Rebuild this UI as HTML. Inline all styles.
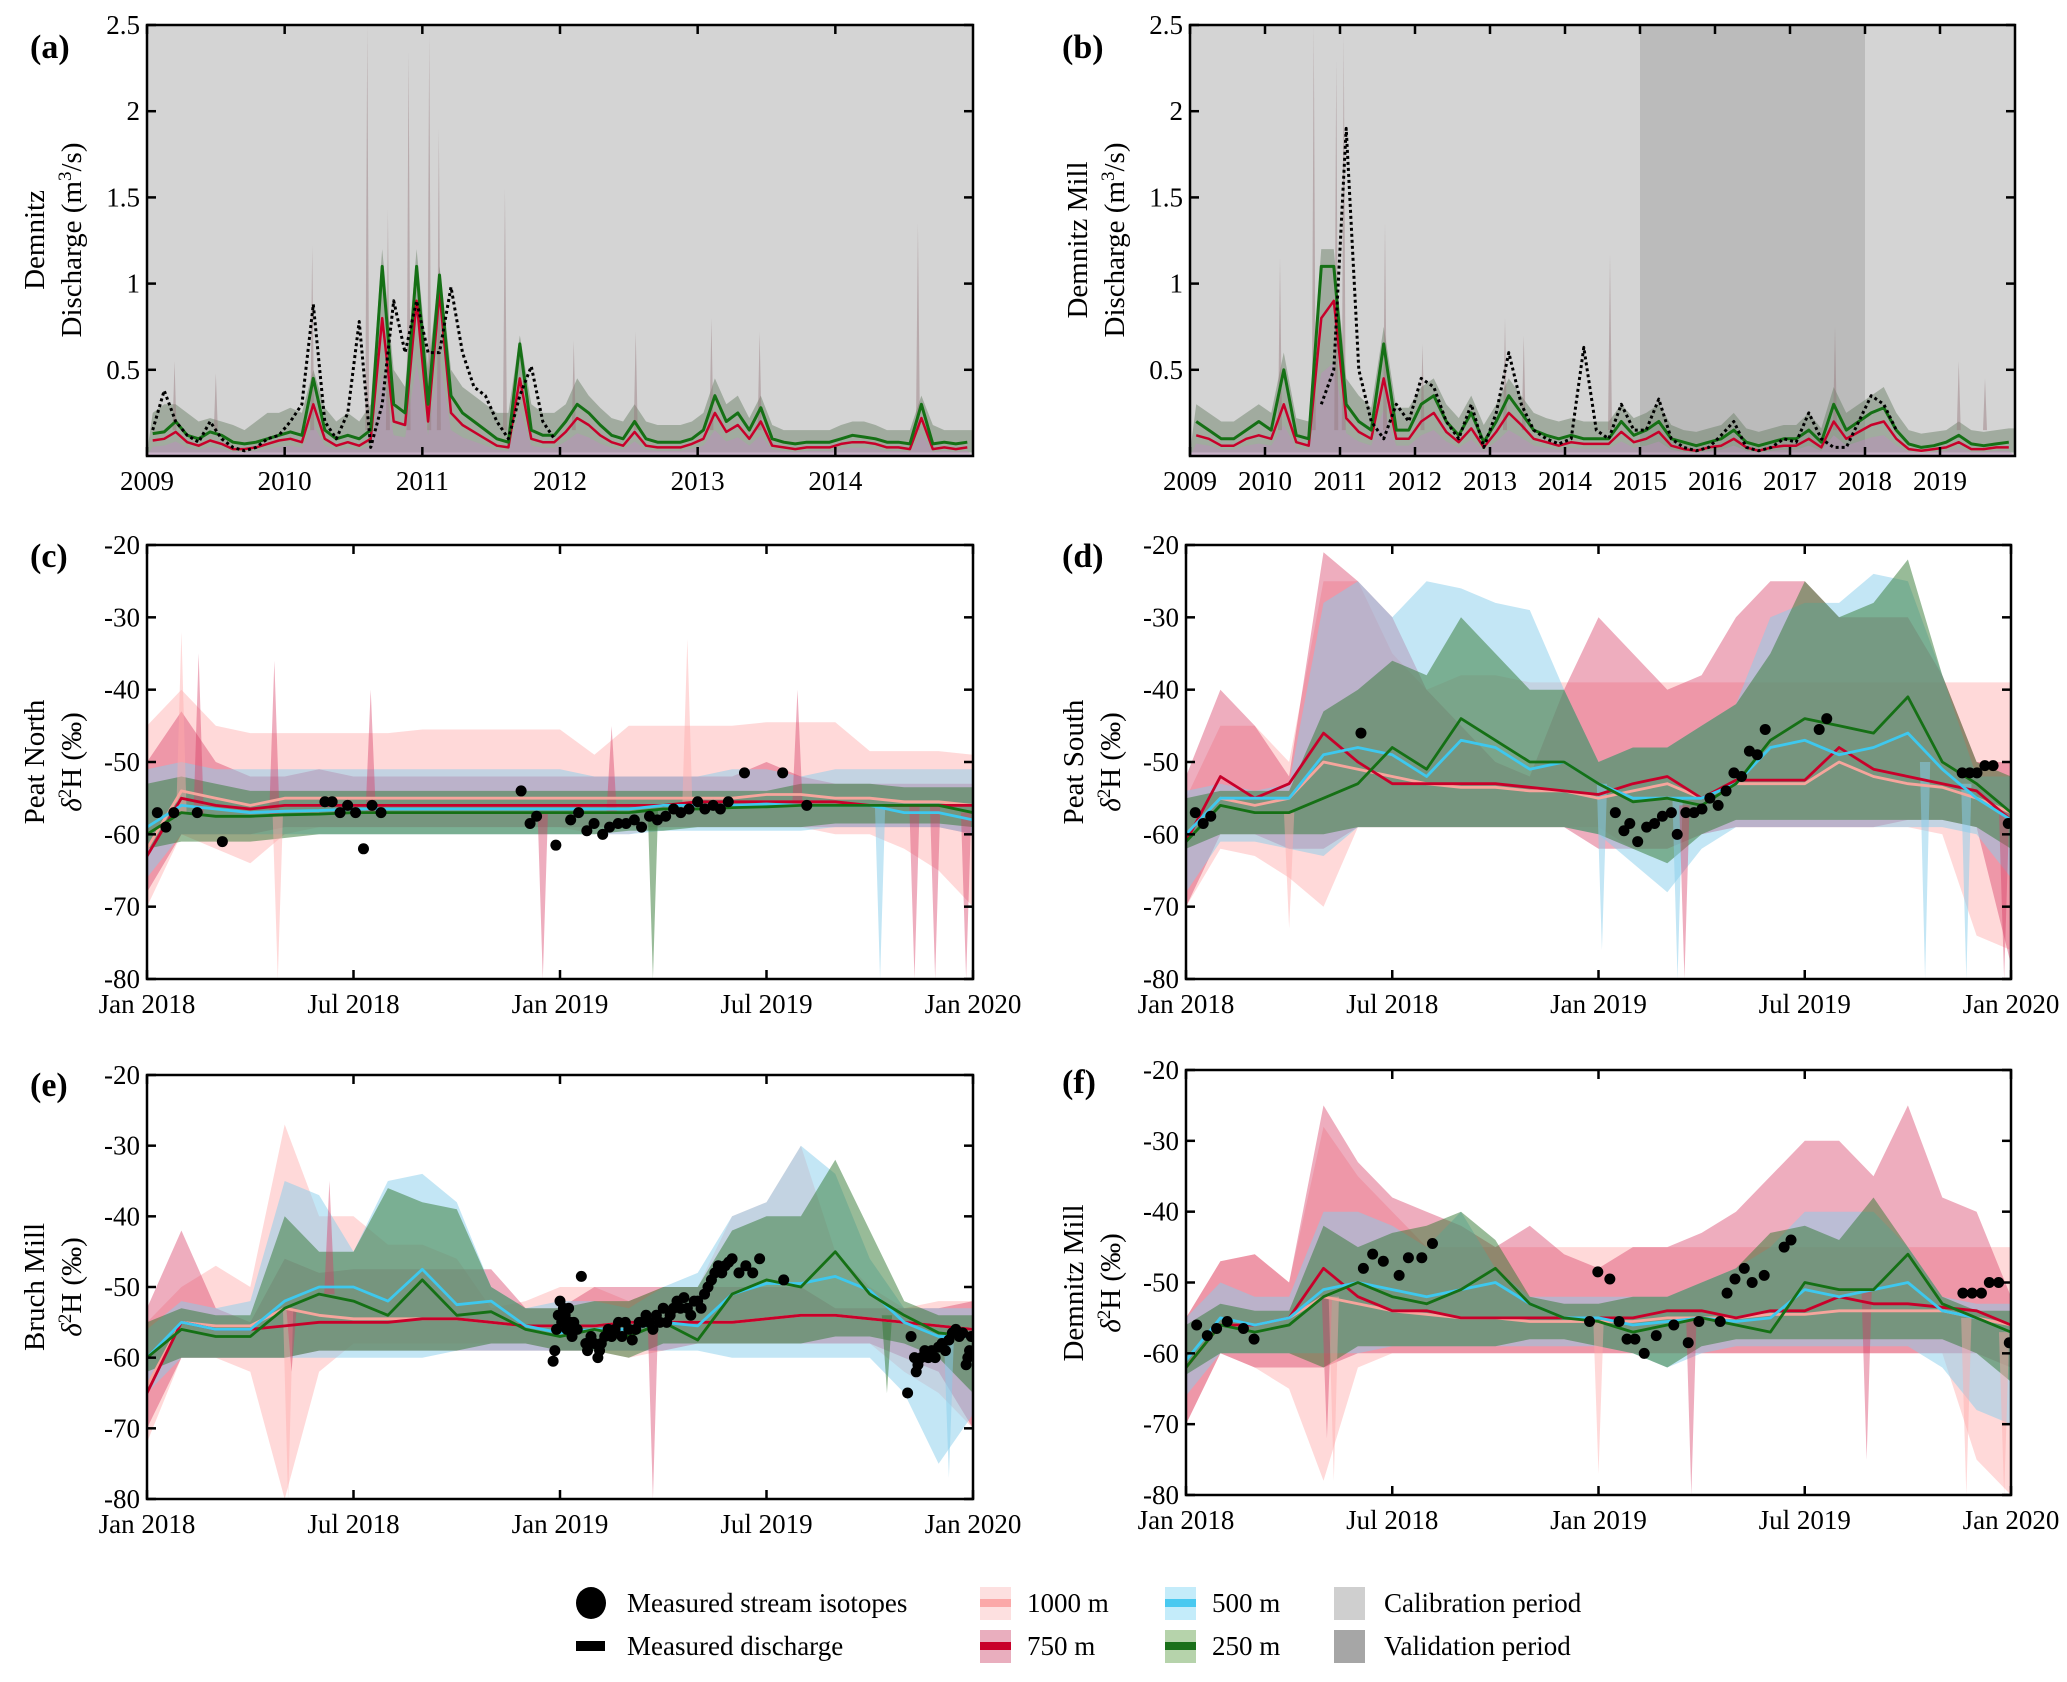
<!DOCTYPE html>
<html><head><meta charset="utf-8"><style>
html,body{margin:0;padding:0;background:#fff;}
svg{display:block;}
svg text{font-family:"Liberation Serif","DejaVu Serif",serif;}
</style></head><body>
<svg id="fig" width="2067" height="1682" viewBox="0 0 2067 1682" xmlns="http://www.w3.org/2000/svg" font-family="Liberation Serif, DejaVu Serif, serif"></svg>
<script>
// ---------- Discharge data (a) monthly 2009-2014 ----------
const aSimGreen=[0.13,0.14,0.2,0.12,0.1,0.14,0.12,0.08,0.07,0.08,0.1,0.12,
0.14,0.12,0.45,0.15,0.1,0.12,0.1,0.15,1.1,0.3,0.25,1.1,
0.3,1.05,0.35,0.25,0.2,0.15,0.1,0.08,0.65,0.15,0.12,0.12,
0.2,0.3,0.25,0.18,0.12,0.1,0.2,0.1,0.08,0.08,0.08,0.1,
0.15,0.35,0.2,0.25,0.15,0.28,0.1,0.08,0.07,0.08,0.08,0.08,
0.1,0.12,0.11,0.1,0.08,0.08,0.07,0.3,0.07,0.08,0.07,0.08];
const aSimRed=[0.09,0.1,0.14,0.08,0.06,0.09,0.07,0.04,0.04,0.05,0.07,0.09,
0.1,0.08,0.3,0.1,0.06,0.08,0.06,0.1,0.8,0.2,0.18,0.9,
0.2,0.95,0.25,0.18,0.14,0.1,0.06,0.05,0.45,0.1,0.08,0.08,
0.14,0.22,0.18,0.12,0.08,0.06,0.14,0.06,0.05,0.05,0.05,0.07,
0.1,0.25,0.14,0.18,0.1,0.2,0.06,0.05,0.04,0.05,0.05,0.05,
0.07,0.08,0.08,0.07,0.05,0.05,0.04,0.22,0.04,0.05,0.04,0.05];
const aBandUpper=[0.25,0.3,0.3,0.25,0.2,0.22,0.2,0.18,0.15,0.2,0.25,0.25,
0.28,0.25,0.5,0.28,0.2,0.25,0.2,0.3,1.2,0.5,0.4,1.2,
0.5,1.1,0.5,0.4,0.35,0.3,0.25,0.25,0.7,0.3,0.25,0.25,
0.3,0.45,0.35,0.28,0.22,0.2,0.3,0.2,0.18,0.18,0.18,0.2,
0.25,0.45,0.3,0.35,0.22,0.35,0.18,0.15,0.15,0.15,0.15,0.15,
0.18,0.2,0.2,0.18,0.15,0.15,0.15,0.35,0.18,0.15,0.15,0.15];
const aMeasured=[0.15,0.38,0.2,0.12,0.08,0.2,0.1,0.05,0.03,0.05,0.1,0.12,
0.2,0.3,0.88,0.2,0.1,0.25,0.78,0.05,0.3,0.9,0.6,0.9,
0.6,0.6,0.98,0.6,0.4,0.35,0.2,0.1,0.35,0.52,0.2,0.1,
null,null,null,null,null,null,null,null,null,null,null,null,
null,null,null,null,null,null,null,null,null,null,null,null,
null,null,null,null,null,null,null,null,null,null,null,null];
const aSpikeYears=[2009.2,2009.5,2010.2,2010.6,2010.75,2010.9,2011.05,2011.12,2011.6,2012.1,2012.55,2013.1,2013.45,2014.6];
const aSpikeValues=[0.55,0.48,1.22,2.5,1.43,2.35,2.45,1.9,1.55,0.67,0.72,0.8,0.72,1.35];
const aTickYears=[2009,2010,2011,2012,2013,2014];
// ---------- Discharge data (b) bimonthly 2009-2019 ----------
const bSimGreen=[0.2,0.15,0.1,0.1,0.15,0.2, 0.15,0.5,0.12,0.1,1.1,1.1, 0.3,0.2,0.15,0.65,0.15,0.15,
0.3,0.35,0.2,0.12,0.25,0.08, 0.2,0.35,0.25,0.15,0.12,0.1, 0.12,0.1,0.1,0.1,0.2,0.12,
0.15,0.2,0.1,0.08,0.06,0.08, 0.1,0.15,0.08,0.06,0.08,0.1, 0.1,0.15,0.08,0.3,0.15,0.2,
0.25,0.28,0.15,0.07,0.05,0.06, 0.08,0.12,0.07,0.06,0.07,0.08];
const bSimRed=[0.12,0.1,0.06,0.06,0.1,0.12, 0.1,0.3,0.08,0.06,0.8,0.9, 0.22,0.14,0.1,0.45,0.1,0.1,
0.2,0.25,0.14,0.08,0.16,0.05, 0.14,0.25,0.18,0.1,0.08,0.06, 0.08,0.07,0.07,0.07,0.14,0.08,
0.1,0.14,0.06,0.04,0.03,0.05, 0.06,0.1,0.05,0.03,0.05,0.06, 0.06,0.1,0.05,0.2,0.1,0.14,
0.18,0.2,0.1,0.04,0.03,0.04, 0.05,0.08,0.04,0.04,0.05,0.05];
const bBandUpper=[0.3,0.25,0.2,0.2,0.25,0.3, 0.25,0.6,0.22,0.2,1.2,1.2, 0.45,0.35,0.28,0.75,0.28,0.28,
0.4,0.45,0.3,0.22,0.35,0.18, 0.3,0.45,0.35,0.25,0.22,0.2, 0.22,0.2,0.2,0.2,0.3,0.22,
0.25,0.3,0.18,0.15,0.14,0.16, 0.18,0.25,0.16,0.14,0.16,0.18, 0.18,0.25,0.16,0.4,0.25,0.3,
0.35,0.4,0.25,0.15,0.13,0.14, 0.15,0.2,0.15,0.14,0.15,0.16];
const bMeasured=[null,null,null,null,null,null, null,null,null,null,0.3,0.5, 1.9,0.5,0.2,0.1,0.3,0.2,
0.45,0.4,0.2,0.1,0.3,0.05, 0.25,0.6,0.3,0.15,0.1,0.07, 0.1,0.63,0.15,0.1,0.3,0.15,
0.15,0.33,0.1,0.05,0.03,0.05, 0.12,0.2,0.05,0.03,0.05,0.1, 0.08,0.25,0.1,0.05,0.05,0.2,
0.35,0.3,0.15,null,null,null, null,null,null,null,null,null];
const bSpikeYears=[2010.2,2010.65,2010.95,2011.05,2011.6,2012.1,2013.2,2013.45,2014.6,2017.6,2019.25,2019.6];
const bSpikeValues=[1.15,2.5,2.3,2.45,1.35,0.65,0.8,0.7,1.17,0.75,0.55,0.45];
const bTickYears=[2009,2010,2011,2012,2013,2014,2015,2016,2017,2018,2019];
const bValidation=[2015,2018];
const qTicks=[0.5,1,1.5,2,2.5];
// ---------- Isotope panels (monthly index 0=Jan 2018 .. 24=Jan 2020) ----------
const isoTicks=[-20,-30,-40,-50,-60,-70,-80];
const monthTickLabels=["Jan 2018","Jul 2018","Jan 2019","Jul 2019","Jan 2020"];
const monthTickPos=[0,6,12,18,24];
// (c) Peat North
const cGreen=[-60,-57,-57.5,-57.5,-57.3,-57.2,-57,-57,-57,-57,-57,-57,-57,-57,-57,-56.5,-56.5,-56.3,-56.2,-56,-56,-56,-56,-56,-57];
const cCyan=[-59,-56,-56.5,-57,-56.8,-56.7,-56.5,-56.5,-56.5,-56.5,-56.5,-56.5,-56.5,-56.5,-56.5,-56,-56,-56,-55.8,-56,-56,-56,-57,-57,-58];
const cRed=[-63,-55,-56,-56.5,-56,-56,-56,-56,-56,-56,-56,-56,-56,-56,-56,-56,-55.5,-55.5,-55.5,-55.5,-55.5,-56,-56,-56,-56];
const cPink=[-62,-54,-55,-56,-55,-55,-55,-55,-55,-55,-55,-55,-55,-55,-55,-55,-55,-55,-54.5,-54.5,-55,-55,-55.5,-55.5,-56];
const cPinkU=[-45,-40,-45,-46,-46,-46,-46,-46,-45.5,-45.5,-45.5,-45.5,-45.5,-49,-45,-45,-45,-45,-44.5,-44.5,-44.5,-48.5,-48.5,-48.5,-49];
const cPinkL=[-70,-60,-62,-64,-60,-59,-59,-59,-59,-59,-59,-59,-59,-60,-60,-59,-59,-59,-59,-59,-60,-60,-62,-65,-70];
const cRedU=[-50,-43,-50,-52,-52,-51,-52,-52,-52,-52,-52,-52,-52,-52,-52,-52,-52,-52,-50,-52,-53,-53,-53,-53,-53];
const cRedL=[-68,-60,-60,-60,-59,-59,-59,-59,-59,-59,-59,-59,-59,-59,-59,-59,-59,-59,-59,-59,-59,-59,-59,-59,-60];
const cCyanU=[-51,-50,-51,-51,-51,-51,-51,-51,-51,-51,-51,-51,-51,-52,-52,-52,-52,-51,-51,-52,-51,-51,-51,-51,-51];
const cCyanL=[-66,-60,-60,-60,-60,-60,-60,-60,-60,-60,-60,-60,-60,-60,-60,-59.5,-59.5,-59.5,-59.5,-59.5,-59,-59,-59,-59,-60];
const cGreenU=[-53,-52,-53,-54,-54,-54,-54,-54,-54,-54,-54,-54,-54,-54,-54,-54,-54,-54,-54,-53,-53,-53,-53.5,-53.5,-53.5];
const cGreenL=[-62,-61,-61,-61,-60.5,-60,-60,-60,-60,-60,-60,-60,-60,-60,-59.5,-59.5,-59,-59,-59,-59,-58.5,-58.5,-58.5,-58.5,-59];
const cSpikeMonths=[1.0,1.5,3.7,3.8,6.5,11.5,13.5,14.7,15.7,18.9,21.3,22.3,22.9,23.8];
const cSpikeValues=[-32,-35,-36,-80,-40,-80,-45,-80,-33,-40,-80,-80,-80,-80];
const cSpikeSeries=["pink","red","red","pink","red","red","red","green","pink","red","cyan","red","red","red"];
const cDotMonths=[0.3,0.55,0.78,1.46,2.19,5.17,5.38,5.61,5.83,6.06,6.29,6.54,6.8,10.87,11.13,11.32,11.88,12.31,12.54,12.78,12.99,13.24,13.44,13.69,13.92,14.16,14.37,14.6,14.83,15.07,15.3,15.51,15.75,16,16.21,16.45,16.66,16.89,17.36,18.47,19.17];
const cDotValues=[-57,-59,-57,-57,-61,-55.5,-55.5,-57,-56,-57,-62,-56,-57,-54,-58.5,-57.5,-61.5,-58,-57,-59.5,-58.5,-60,-59,-58.5,-58.5,-58,-59,-57.5,-58,-57.5,-56.5,-57,-56.5,-55.5,-56.5,-56,-56.5,-55.5,-51.5,-51.5,-56];
// (d) Peat South
const dGreen=[-61,-56,-57,-57,-55,-53,-48,-51,-44,-47,-50,-50,-53,-55.5,-55,-56,-53,-47,-44,-45,-46,-41,-50,-53,-57];
const dCyan=[-60,-55,-55,-55,-49,-48,-49,-52,-47,-48,-51,-50,-53,-55,-55,-55,-53,-48,-47,-49,-48,-46,-51,-55,-58];
const dRed=[-61,-52,-55,-53,-46,-50,-53,-53,-53,-53,-53.5,-54,-54.5,-53,-52,-55,-52.5,-52.5,-52.5,-48,-51,-52,-53,-54,-58];
const dPink=[-60,-55,-56,-55,-50,-51,-52,-53,-53.5,-53.5,-54,-54,-55,-54,-53,-55,-53,-53,-53,-50,-52,-53,-53.5,-55,-57];
const dPinkU=[-55,-45,-45,-50,-25,-25,-35,-40,-38,-38,-39,-39,-39,-39,-39,-39,-39,-39,-39,-39,-39,-39,-39,-39,-39];
const dPinkL=[-70,-62,-63,-66,-70,-59,-59,-59,-59,-59,-59,-59,-59,-62,-62,-60,-59,-59,-59,-59,-59,-59,-60,-74,-76];
const dRedU=[-52,-40,-45,-52,-21,-25,-30,-40,-45,-50,-52,-40,-30,-35,-40,-38,-30,-25,-25,-30,-30,-30,-38,-50,-50];
const dRedL=[-70,-60,-60,-62,-62,-59,-59,-59,-59,-59,-59,-59,-62,-62,-62,-60,-59,-59,-59,-59,-59,-58,-58,-59,-78];
const dCyanU=[-54,-53,-54,-53,-28,-25,-30,-25,-26,-28,-29,-40,-50,-48,-48,-45,-42,-30,-28,-28,-24,-25,-38,-52,-52];
const dCyanL=[-68,-61,-61,-62,-63,-59,-59,-59,-59,-59,-59,-59,-60,-64,-68,-62,-59,-59,-59,-59,-59,-59,-59,-60,-66];
const dGreenU=[-55,-54,-54,-54,-43,-40,-36,-38,-30,-35,-40,-40,-50,-48,-48,-45,-42,-35,-25,-30,-28,-22,-38,-50,-52];
const dGreenL=[-62,-60,-60,-60,-60,-59,-59,-59,-59,-59,-59,-59,-60,-62,-64,-60,-58,-58,-58,-58,-58,-58,-58,-59,-62];
const dSpikeMonths=[3.0,12.1,14.3,14.5,21.5,22.7,23.8];
const dSpikeValues=[-73,-76,-80,-80,-80,-80,-80];
const dSpikeSeries=["pink","cyan","cyan","red","cyan","cyan","red"];
const dDotMonths=[0.27,0.5,0.72,5.09,12.49,12.74,12.91,13.14,13.4,13.63,13.86,14.12,14.29,14.54,14.78,15.01,15.24,15.48,15.71,15.94,16.16,16.39,16.62,16.85,18.42,18.64,22.58,22.8,23.01,23.24,23.48,23.92];
const dDotValues=[-57,-58.5,-57.5,-46,-57,-59.5,-58.5,-61,-59,-58.5,-57.5,-57,-60,-57,-57,-56.5,-55,-56,-54,-51.5,-52,-48.5,-49,-45.5,-45.5,-44,-51.5,-51.5,-51.5,-50.5,-50.5,-58.5];
// (e) Bruch Mill
const eGreen=[-60,-56,-57,-57,-53,-51,-52,-54,-49,-54,-53.5,-56,-57,-56,-57,-55,-57.5,-51,-49,-50,-45,-51,-54,-56.5,-57];
const eCyan=[-60,-55,-56,-56,-52,-50,-50,-52,-47.5,-52.5,-52,-55.5,-56.5,-56,-56,-55,-55.5,-51,-49.5,-49.5,-48.5,-50.5,-55,-57,-57];
const eRed=[-65,-55,-56,-56,-55.5,-55,-55,-55,-54.5,-54.5,-55,-55.5,-55.5,-55.5,-55,-55,-55,-55,-54.5,-54,-54,-54.5,-55,-55.5,-56];
const ePink=[-64,-55,-55.5,-55.5,-53,-54,-54.5,-54.5,-54.5,-54.5,-55,-55.5,-55.5,-55.5,-55,-55,-55,-55,-54.5,-54,-54,-54.5,-55,-55.5,-56];
const ePinkU=[-55,-50,-47,-50,-27,-40,-40,-44,-44,-46,-53,-52,-50,-50,-52,-50,-50,-40,-38,-30,-45,-50,-53,-52,-52];
const ePinkL=[-72,-60,-60,-62,-80,-62,-58,-58,-58,-58,-58,-58,-59,-59,-60,-59,-58,-58,-58,-58,-58,-58,-62,-65,-70];
const eRedU=[-53,-42,-53,-55,-46,-48,-47.5,-47.5,-47.5,-47.5,-47.5,-53,-53,-50,-50,-50,-50,-50,-50,-50,-53,-53,-53,-53,-52];
const eRedL=[-70,-60,-60,-60,-60,-59,-59,-59,-59,-59,-59,-59,-59,-59,-59,-59,-58,-58,-58,-58,-58,-58,-60,-62,-70];
const eCyanU=[-56,-52,-53,-52,-35,-37,-45,-35,-34,-38,-50,-53,-52,-52,-53,-50,-48,-40,-38,-30,-34,-46,-53,-53,-53];
const eCyanL=[-65,-60,-60,-60,-60,-60,-60,-60,-60,-59,-59,-59,-59,-59,-59,-59,-59,-60,-60,-60,-60,-60,-65,-75,-68];
const eGreenU=[-55,-53,-54,-54,-40,-45,-45,-36,-38,-39,-50,-53,-53,-52,-52,-50,-50,-42,-40,-40,-32,-42,-52,-54,-54];
const eGreenL=[-62,-60,-60,-60,-60,-59,-59,-59,-59,-59,-58,-58,-59,-59,-60,-58,-58,-58,-58,-58,-57,-57,-58,-60,-65];
const eSpikeMonths=[4.1,4.2,5.3,14.7,21.5,23.3];
const eSpikeValues=[-80,-62,-35,-80,-65,-77];
const eSpikeSeries=["pink","red","red","red","green","cyan"];
const eDotMonths=[11.8,11.85,11.9,11.95,12.0,12.05,12.1,12.15,12.2,12.25,12.3,12.35,12.4,12.5,12.62,12.75,12.8,12.9,13.0,13.1,13.15,13.2,13.3,13.4,13.5,13.6,13.7,13.8,13.9,14.0,14.1,14.2,14.3,14.4,14.5,14.6,14.7,14.8,14.9,15.0,15.1,15.2,15.3,15.4,15.5,15.6,15.7,15.8,15.9,16.0,16.1,16.2,16.3,16.4,16.5,16.6,16.7,16.8,16.9,17.0,17.2,17.4,17.6,17.8,18.5,
22.1,22.2,22.3,22.35,22.4,22.5,22.6,22.7,22.8,22.9,23.0,23.1,23.2,23.3,23.4,23.5,23.6,23.7,23.8,23.85,23.9,23.95];
const eDotValues=[-60.5,-59,-56,-54,-52,-55,-53,-54,-56,-53,-55,-57,-55,-56,-48.5,-58,-59,-57,-58,-60,-59,-58,-57,-56,-57,-56,-55,-57,-55,-56,-57.5,-56,-55,-55,-54,-55,-56,-54,-55,-53,-55,-54,-53,-52,-53,-51.5,-53,-54,-52,-52,-53,-51,-50,-49,-48,-47,-48,-47,-46.5,-46,-48,-47,-48,-46,-49,
-65,-57,-60,-62,-61,-60,-59,-60,-59,-60,-58.5,-58,-59,-57.5,-56.5,-56,-57,-56.5,-61,-60,-59,-57];
// (f) Demnitz Mill
const fGreen=[-62,-56,-57,-56,-52,-50,-52,-53,-51,-48,-53,-55,-55.5,-57,-56,-55,-56,-57,-50,-51,-51,-46,-53,-55,-57];
const fCyan=[-61,-55,-56,-55,-51,-50,-51,-52,-51,-50,-53,-55,-55,-56,-55.5,-55,-55.5,-55,-51,-52,-51,-50,-54,-55,-57];
const fRed=[-62,-56,-56,-55,-48,-52,-54,-54,-55,-55,-55,-55,-55,-55,-54,-54,-55,-54,-54,-52,-53,-53,-53.5,-54,-56];
const fPink=[-62,-56,-56,-55,-52,-53,-54,-54.5,-55,-55,-55.5,-55.5,-55.5,-55.5,-55,-55,-55,-54.5,-54.5,-54,-54,-54,-54,-55,-56];
const fPinkU=[-55,-47,-46,-50,-28,-35,-40,-45,-45,-45,-45,-45,-45,-45,-45,-45,-45,-45,-45,-45,-45,-45,-45,-45,-45];
const fPinkL=[-70,-60,-62,-65,-78,-62,-60,-60,-60,-60,-60,-60,-60,-60,-60,-60,-60,-60,-60,-60,-60,-60,-60,-75,-80];
const fRedU=[-55,-47,-46,-50,-25,-33,-38,-40,-42,-45,-42,-46,-48,-45,-45,-43,-40,-35,-30,-30,-35,-25,-38,-40,-52];
const fRedL=[-70,-60,-62,-62,-62,-60,-60,-60,-60,-60,-60,-60,-60,-60,-60,-60,-60,-60,-60,-60,-60,-60,-60,-60,-62];
const fCyanU=[-55,-50,-52,-52,-40,-40,-42,-45,-40,-48,-52,-52,-52,-52,-52,-50,-48,-45,-40,-40,-40,-45,-52,-53,-53];
const fCyanL=[-66,-60,-60,-60,-60,-60,-59,-59,-59,-59,-59,-59,-59,-60,-62,-60,-59,-59,-59,-59,-59,-59,-62,-68,-70];
const fGreenU=[-56,-53,-54,-54,-42,-45,-43,-42,-40,-44,-52,-53,-53,-52,-52,-50,-48,-43,-42,-44,-38,-45,-52,-54,-54];
const fGreenL=[-63,-60,-60,-60,-62,-59,-59,-59,-59,-59,-58,-58,-59,-60,-62,-59,-58,-58,-58,-58,-58,-58,-58,-60,-64];
const fSpikeMonths=[4.1,4.3,12.0,14.7,19.8,22.7,23.8];
const fSpikeValues=[-72,-78,-77,-80,-75,-80,-80];
const fSpikeSeries=["red","pink","pink","red","red","pink","pink"];
const fDotMonths=[0.31,0.62,0.89,1.2,1.67,1.98,5.16,5.43,5.74,6.2,6.47,6.86,7.17,11.74,11.98,12.33,12.6,12.83,13.06,13.33,13.68,14.19,14.61,14.92,15.54,15.74,15.97,16.24,16.47,16.82,17.4,17.6,22.6,22.87,23.14,23.37,23.64,23.95];
const fDotValues=[-56,-57.5,-56.5,-55.5,-56.5,-58,-48,-46,-47,-49,-46.5,-46.5,-44.5,-55.5,-48.5,-49.5,-55.5,-58,-58,-60,-57.5,-56,-58.5,-55.5,-55.5,-51.5,-49.5,-48,-50,-49,-45,-44,-51.5,-51.5,-51.5,-50,-50,-58.5];

// ---------- rendering ----------
const NS="http://www.w3.org/2000/svg";
const svg=document.getElementById('fig');
const FONT="'Liberation Serif','DejaVu Serif',serif";
function mk(tag,attrs,parent){const e=document.createElementNS(NS,tag);for(const k in attrs)e.setAttribute(k,attrs[k]);if(tag==='text')e.setAttribute('font-family',FONT);(parent||svg).appendChild(e);return e;}
const COL={pink:"rgba(255,170,170,0.45)",red:"rgba(215,60,100,0.42)",cyan:"rgba(135,205,235,0.5)",green:"rgba(50,120,50,0.5)"};
const LCOL={pink:"#f6a59c",red:"#c8002a",cyan:"#3ec8ee",green:"#157015"};

function frame(g,P,yTicks,yFmt,yv,xTickPos,xTickLbl,xv){
  mk('rect',{x:P.x0,y:P.y0,width:P.x1-P.x0,height:P.y1-P.y0,fill:'none',stroke:'#000','stroke-width':2.5},g);
  yTicks.forEach((t,i)=>{const y=yv(t);
    mk('line',{x1:P.x0,y1:y,x2:P.x0+9,y2:y,stroke:'#000','stroke-width':2.5},g);
    mk('line',{x1:P.x1,y1:y,x2:P.x1-9,y2:y,stroke:'#000','stroke-width':2.5},g);
    const tx=mk('text',{x:P.x0-7,y:y+9,'text-anchor':'end','font-size':27},g);tx.textContent=yFmt(t);
    
    
  });
  xTickPos.forEach((t,i)=>{const x=xv(t);
    mk('line',{x1:x,y1:P.y1,x2:x,y2:P.y1-9,stroke:'#000','stroke-width':2.5},g);
    mk('line',{x1:x,y1:P.y0,x2:x,y2:P.y0+9,stroke:'#000','stroke-width':2.5},g);
    const tx=mk('text',{x:x,y:P.y1+34,'text-anchor':'middle','font-size':27},g);tx.textContent=xTickLbl[i];
    
    
  });
}
function panelLabel(txt,x,y){const t=mk('text',{x:x,y:y,'font-size':34,'font-weight':'bold'});t.textContent=txt;
  
  }
function yTitle(lines,cx,cy){
  const g=mk('g',{transform:`translate(${cx},${cy}) rotate(-90)`});
  
  
  lines.forEach((l,i)=>{const t=mk('text',{x:0,y:i*37,'text-anchor':'middle','font-size':29},g);t.innerHTML=l;});
}

function discharge(name,P,t0,t1,ticksY,ticks,green,red,upper,meas,perYear,spY,spV,valid){
  const g=mk('g',{});
  
  
  const xv=t=>P.x0+(t-t0)/(t1-t0)*(P.x1-P.x0);
  const yv=v=>P.y1-Math.max(0,Math.min(2.5,v))/2.5*(P.y1-P.y0);
  const bg=mk('rect',{x:P.x0,y:P.y0,width:P.x1-P.x0,height:P.y1-P.y0,fill:'#d4d4d4'},g);
  
  
  if(valid){const vr=mk('rect',{x:xv(valid[0]),y:P.y0,width:xv(valid[1])-xv(valid[0]),height:P.y1-P.y0,fill:'#bbbbbb'},g);
    
    }
  const tt=i=>t0+(i+0.5)/perYear;
  let d=`M${xv(t0)},${yv(0.02)}`;
  upper.forEach((v,i)=>{d+=`L${xv(tt(i))},${yv(v)}`;});
  d+=`L${xv(t1)},${yv(upper[upper.length-1])}L${xv(t1)},${yv(0.02)}Z`;
  const band=mk('path',{d:d,fill:'rgba(110,130,105,0.5)'},g);
  
  
  let d2=`M${xv(t0)},${yv(0.0)}`;
  red.forEach((v,i)=>{d2+=`L${xv(tt(i))},${yv(v*0.6)}`;});
  d2+=`L${xv(t1)},${yv(0)}Z`;
  const lb=mk('path',{d:d2,fill:'rgba(190,140,190,0.45)'},g);
  
  
  spY.forEach((s,i)=>{const x=xv(s);const base=yv(0.15);
    const sp=mk('path',{d:`M${x-2},${base}L${x},${yv(spV[i])}L${x+2},${base}Z`,fill:'rgba(150,120,125,0.45)'},g);
    
    });
  const line=(arr,col,w,name,dash)=>{let pts=[];const segs=[];
    arr.forEach((v,i)=>{if(v===null){if(pts.length)segs.push(pts);pts=[];}else pts.push(`${xv(tt(i)).toFixed(1)},${yv(v).toFixed(1)}`);});
    if(pts.length)segs.push(pts);
    segs.forEach(s=>{const pl=mk('polyline',{points:s.join(' '),fill:'none',stroke:col,'stroke-width':w,'stroke-linejoin':'round'},g);
      if(dash)pl.setAttribute('stroke-dasharray',dash);
      
      });
  };
  line(red,LCOL.red,2.5,'line-750m');
  line(green,LCOL.green,3,'line-250m');
  line(meas,'#000',3,'measured-discharge','3,3');
  frame(g,P,ticksY,t=>String(t),yv,ticks,ticks.map(String),xv);
}
discharge('panel-a',{x0:147,x1:973,y0:25,y1:456},2009,2015,qTicks,aTickYears,aSimGreen,aSimRed,aBandUpper,aMeasured,12,aSpikeYears,aSpikeValues,null);
discharge('panel-b',{x0:1190,x1:2015,y0:25,y1:456},2009,2020,qTicks,bTickYears,bSimGreen,bSimRed,bBandUpper,bMeasured,6,bSpikeYears,bSpikeValues,bValidation);

function iso(name,P,S){
  const g=mk('g',{});
  
  
  const xv=m=>P.x0+m/24*(P.x1-P.x0);
  const yv=v=>P.y0+(-20-Math.max(-80,Math.min(-20,v)))/60*(P.y1-P.y0);
  const clip=mk('clipPath',{id:'clip-'+name},g);mk('rect',{x:P.x0,y:P.y0,width:P.x1-P.x0,height:P.y1-P.y0},clip);
  const inner=mk('g',{'clip-path':`url(#clip-${name})`},g);
  ['pink','red','cyan','green'].forEach(k=>{
    const U=S[k+'U'],L=S[k+'L'];
    let d='';U.forEach((v,i)=>{d+=(i?'L':'M')+xv(i).toFixed(1)+','+yv(v).toFixed(1);});
    for(let i=L.length-1;i>=0;i--)d+='L'+xv(i).toFixed(1)+','+yv(L[i]).toFixed(1);
    const b=mk('path',{d:d+'Z',fill:COL[k]},inner);
    
    
  });
  S.spM.forEach((m,i)=>{const k=S.spS[i];const idx=Math.min(24,Math.round(m));const base=yv(S.green[idx]);
    const sp=mk('path',{d:`M${xv(m-0.15)},${base}L${xv(m)},${yv(S.spV[i])}L${xv(m+0.15)},${base}Z`,fill:COL[k]},inner);
    
    });
  ['pink','red','cyan','green'].forEach(k=>{
    const arr=S[k];
    const pl=mk('polyline',{points:arr.map((v,i)=>xv(i).toFixed(1)+','+yv(v).toFixed(1)).join(' '),fill:'none',stroke:LCOL[k],'stroke-width':2.8,'stroke-linejoin':'round'},inner);
    
    
  });
  S.dotM.forEach((m,i)=>{const c=mk('circle',{cx:xv(m),cy:yv(S.dotV[i]),r:5.5,fill:'#000'},inner);
    
    });
  frame(g,P,isoTicks,t=>String(t),yv,monthTickPos,monthTickLabels,xv);
}
iso('panel-c',{x0:147,x1:973,y0:545,y1:979},{pink:cPink,red:cRed,cyan:cCyan,green:cGreen,pinkU:cPinkU,pinkL:cPinkL,redU:cRedU,redL:cRedL,cyanU:cCyanU,cyanL:cCyanL,greenU:cGreenU,greenL:cGreenL,spM:cSpikeMonths,spV:cSpikeValues,spS:cSpikeSeries,dotM:cDotMonths,dotV:cDotValues});
iso('panel-d',{x0:1186,x1:2011,y0:545,y1:979},{pink:dPink,red:dRed,cyan:dCyan,green:dGreen,pinkU:dPinkU,pinkL:dPinkL,redU:dRedU,redL:dRedL,cyanU:dCyanU,cyanL:dCyanL,greenU:dGreenU,greenL:dGreenL,spM:dSpikeMonths,spV:dSpikeValues,spS:dSpikeSeries,dotM:dDotMonths,dotV:dDotValues});
iso('panel-e',{x0:147,x1:973,y0:1075,y1:1499},{pink:ePink,red:eRed,cyan:eCyan,green:eGreen,pinkU:ePinkU,pinkL:ePinkL,redU:eRedU,redL:eRedL,cyanU:eCyanU,cyanL:eCyanL,greenU:eGreenU,greenL:eGreenL,spM:eSpikeMonths,spV:eSpikeValues,spS:eSpikeSeries,dotM:eDotMonths,dotV:eDotValues});
iso('panel-f',{x0:1186,x1:2011,y0:1070,y1:1495},{pink:fPink,red:fRed,cyan:fCyan,green:fGreen,pinkU:fPinkU,pinkL:fPinkL,redU:fRedU,redL:fRedL,cyanU:fCyanU,cyanL:fCyanL,greenU:fGreenU,greenL:fGreenL,spM:fSpikeMonths,spV:fSpikeValues,spS:fSpikeSeries,dotM:fDotMonths,dotV:fDotValues});

panelLabel('(a)',30,58);panelLabel('(b)',1062,58);
panelLabel('(c)',30,567);panelLabel('(d)',1062,567);
panelLabel('(e)',30,1096);panelLabel('(f)',1062,1093);
yTitle(['Demnitz','Discharge (m<tspan baseline-shift="super" font-size="19">3</tspan>/s)'],44,240);
yTitle(['Demnitz Mill','Discharge (m<tspan baseline-shift="super" font-size="19">3</tspan>/s)'],1087,240);
yTitle(['Peat North','<tspan font-style="italic">δ</tspan><tspan baseline-shift="super" font-size="19">2</tspan>H (‰)'],44,762);
yTitle(['Peat South','<tspan font-style="italic">δ</tspan><tspan baseline-shift="super" font-size="19">2</tspan>H (‰)'],1083,762);
yTitle(['Bruch Mill','<tspan font-style="italic">δ</tspan><tspan baseline-shift="super" font-size="19">2</tspan>H (‰)'],44,1287);
yTitle(['Demnitz Mill','<tspan font-style="italic">δ</tspan><tspan baseline-shift="super" font-size="19">2</tspan>H (‰)'],1083,1283);

const leg=mk('g',{});


function legText(x,y,s){const t=mk('text',{x:x,y:y+9,'font-size':27},leg);t.textContent=s;
  
  }
function swatch(x,y,light,mid){const g=mk('g',{},leg);
  
  
  mk('rect',{x:x,y:y-16,width:31,height:33,fill:light},g);
  if(mid)mk('rect',{x:x,y:y-4,width:31,height:8,fill:mid},g);}
const dot=mk('ellipse',{cx:591,cy:1603,rx:15,ry:16,fill:'#000'},leg);


legText(627,1603,'Measured stream isotopes');
const dash=mk('rect',{x:576,y:1641,width:29,height:10,fill:'#000'},leg);


legText(627,1646,'Measured discharge');
swatch(980,1603,'#fde0e0','#fba8a8');legText(1027,1603,'1000 m');
swatch(980,1646,'#e9aebe','#c8002a');legText(1027,1646,'750 m');
swatch(1165,1603,'#c4ecfa','#49c9f0');legText(1212,1603,'500 m');
swatch(1165,1646,'#b6d3ab','#1a701a');legText(1212,1646,'250 m');
swatch(1334,1603,'#cfcfcf',null);legText(1384,1603,'Calibration period');
swatch(1334,1646,'#a6a6a6',null);legText(1384,1646,'Validation period');
</script>
</body></html>
